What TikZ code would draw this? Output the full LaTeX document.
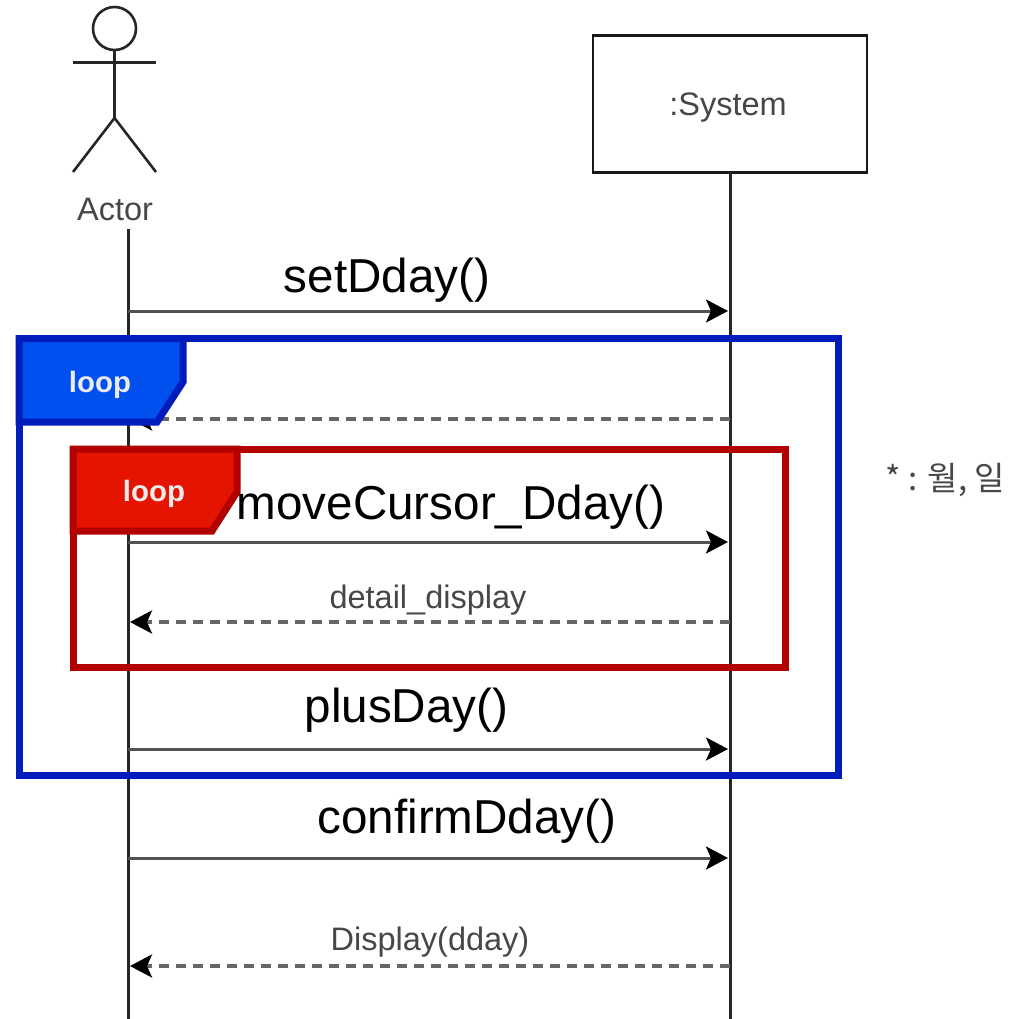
\documentclass[tikz,border=0pt]{standalone}
\usepackage{fontspec}
\setmainfont{Liberation Sans}
\newfontfamily\krfont{Noto Sans CJK KR}
\usetikzlibrary{arrows.meta}
\tikzset{
  px/.style={x=1pt,y=-1pt},
  life/.style={draw=black!85,line width=3pt},
  stick/.style={draw=black!85,line width=2.6pt},
  msg/.style={draw=black!68,line width=3pt,shorten >=2pt,-{Stealth[length=22pt,width=23pt,inset=5pt,color=black]}},
  ret/.style={msg,dash pattern=on 10pt off 7pt,draw=black!60,line width=3.4pt},
  biglabel/.style={font=\fontsize{47.6}{48}\selectfont,anchor=base,inner sep=0pt,text=black},
  smalllabel/.style={font=\fontsize{32.5}{33}\selectfont,anchor=base,inner sep=0pt,text=black!72},
  looplabel/.style={font=\fontsize{29.4}{30}\selectfont\bfseries,anchor=base,inner sep=0pt,text=white!92!black},
  notelabel/.style={font=\krfont\fontsize{33}{34}\selectfont,anchor=base,inner sep=0pt,text=black!72},
  framebox/.style={line width=7pt,line join=miter,miter limit=10},
}
\definecolor{bluefill}{HTML}{0050EF}
\definecolor{blueline}{HTML}{001DBC}
\definecolor{redfill}{HTML}{E51400}
\definecolor{redline}{HTML}{B20000}
\begin{document}
\begin{tikzpicture}[px]
\useasboundingbox (0,0) rectangle (1013,1019);
\fill[white] (0,0) rectangle (1013,1019);
% coordinates
\coordinate (aTop) at (128,229); \coordinate (aBot) at (128,1019);
\coordinate (sBot) at (730,1019);
\foreach \n/\y in {a/311,b/419,c/542,d/622,e/749,f/858,g/966}{
  \coordinate (L\n) at (128,\y);
  \coordinate (R\n) at (730,\y);
}
% actor
\node[circle,stick,minimum size=43pt,inner sep=0pt,outer sep=0pt] (head) at (114.5,28.5) {};
\coordinate (armL) at (73,62.5); \coordinate (armR) at (156,62.5);
\coordinate (hip) at (114.5,118); \coordinate (legL) at (73,172); \coordinate (legR) at (156,172);
\draw[stick] (head.south) -- (hip);
\draw[stick] (armL) -- (armR);
\draw[stick] (legL) -- (hip) -- (legR);
\node[smalllabel] (actor) at (115,220.5) {Actor};
% system
\node[draw=black!90,line width=2.6pt,minimum width=274pt,minimum height=137pt,inner sep=0pt,outer sep=0pt,anchor=north west] (sys) at (593,35.5) {};
\node[smalllabel] (syslabel) at (728,116) {:System};
% lifelines
\draw[life] (aTop) -- (aBot);
\draw[life] (sys.south -| sBot) -- (sBot);
% messages
\draw[msg] (La) -- (Ra);
\draw[ret] (Rb) -- (Lb);
\draw[msg] (Lc) -- (Rc);
\draw[ret] (Rd) -- (Ld);
\draw[msg] (Le) -- (Re);
\draw[msg] (Lf) -- (Rf);
\draw[ret] (Rg) -- (Lg);
% frames
\draw[framebox,draw=blueline] (19,338.5) rectangle (838,775);
\draw[framebox,draw=blueline,fill=bluefill] (19,338.5) -- (183,338.5) -- (183,382) -- (157,422) -- (19,422) -- cycle;
\node[looplabel] (l1) at (100,392) {loop};
\draw[framebox,draw=redline] (73,449) rectangle (785,667);
\draw[framebox,draw=redline,fill=redfill] (73,449) -- (237,449) -- (237,492) -- (212,531) -- (73,531) -- cycle;
\node[looplabel] (l2) at (154,501) {loop};
% labels
\node[biglabel] (m1) at (387,292) {setDday()};
\node[biglabel] (m2) at (451,519) {moveCursor\_Dday()};
\node[smalllabel] (m3) at (428,608) {detail\_display};
\node[biglabel] (m4) at (406.5,722) {plusDay()};
\node[biglabel] (m5) at (467,833) {confirmDday()};
\node[smalllabel] (m6) at (430,950) {Display(dday)};
\node[notelabel] (note) at (945.5,490) {* : 월, 일};
\end{tikzpicture}
\end{document}
